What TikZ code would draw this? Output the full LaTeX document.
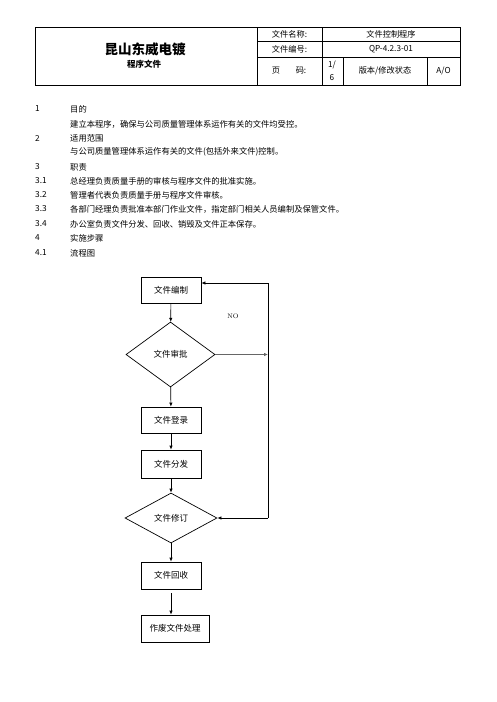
\documentclass[tikz,border=0pt]{standalone}
\usepackage{fontspec}
\newfontfamily\cjk{Noto Sans CJK SC}
\usetikzlibrary{arrows.meta,shapes.geometric}
\begin{document}
\begin{tikzpicture}[x=1pt,y=-1pt,
  font=\cjk\fontsize{8.2}{9}\selectfont,
  tbl/.style={line width=0.8pt},
  body/.style={anchor=west,inner sep=0pt,font=\cjk\fontsize{8.3}{9}\selectfont},
  fbox/.style={draw,line width=0.7pt,minimum width=60pt,minimum height=26pt,inner sep=0pt,font=\cjk\fontsize{8.5}{9}\selectfont},
  fdia/.style={draw,diamond,line width=0.7pt,aspect=1.37,minimum width=89pt,minimum height=65pt,inner sep=0pt,font=\cjk\fontsize{8.5}{9}\selectfont},
  arr/.style={line width=0.7pt,-{Latex[length=4pt,width=3.5pt]}}]
\useasboundingbox (0,0) rectangle (496,702);
\fill[white] (0,0) rectangle (496,702);
% header table
\draw[tbl] (35,27) rectangle (460,85);
\draw[tbl] (257,27) -- (257,85);
\draw[tbl] (322,27) -- (322,85);
\draw[tbl] (257,41) -- (460,41);
\draw[tbl] (257,57) -- (460,57);
\draw[tbl] (343,57) -- (343,85);
\draw[tbl] (427,57) -- (427,85);
\node[font=\cjk\bfseries\fontsize{13.5}{15}\selectfont] (t1) at (145,49) {昆山东威电镀};
\node[font=\cjk\bfseries\fontsize{8.5}{9}\selectfont] (t2) at (144,64) {程序文件};
\node (h1) at (289.5,34) {文件名称:};
\node (h2) at (391,34) {文件控制程序};
\node (h3) at (289.5,49) {文件编号:};
\node (h4) at (391,49) {QP-4.2.3-01};
\node (h5) at (276,71) {页};
\node (h6) at (301,71) {码:};
\node (h7) at (332,65) {1/};
\node (h8) at (332,78) {6};
\node (h9) at (385,71) {版本/修改状态};
\node (h10) at (443.5,71) {A/O};
% body text
\node[body] (n1) at (35,109) {1};
\node[body] (b1) at (70,109) {目的};
\node[body] (b1a) at (70,124) {建立本程序，确保与公司质量管理体系运作有关的文件均受控。};
\node[body] (n2) at (35,138) {2};
\node[body] (b2) at (70,138) {适用范围};
\node[body] (b2a) at (70,152) {与公司质量管理体系运作有关的文件(包括外来文件)控制。};
\node[body] (n3) at (35,167) {3};
\node[body] (b3) at (70,167) {职责};
\node[body] (n31) at (35,181) {3.1};
\node[body] (b31) at (70,181) {总经理负责质量手册的审核与程序文件的批准实施。};
\node[body] (n32) at (35,195) {3.2};
\node[body] (b32) at (70,195) {管理者代表负责质量手册与程序文件审核。};
\node[body] (n33) at (35,209) {3.3};
\node[body] (b33) at (70,209) {各部门经理负责批准本部门作业文件，指定部门相关人员编制及保管文件。};
\node[body] (n34) at (35,224) {3.4};
\node[body] (b34) at (70,224) {办公室负责文件分发、回收、销毁及文件正本保存。};
\node[body] (n4) at (35,238) {4};
\node[body] (b4) at (70,238) {实施步骤};
\node[body] (n41) at (35,253) {4.1};
\node[body] (b41) at (70,253) {流程图};
% flowchart
\node[fbox] (f1) at (171,290) {文件编制};
\node[fdia] (f2) at (170.5,354.5) {文件审批};
\node[fbox] (f3) at (171,420) {文件登录};
\node[fbox,minimum height=28pt] (f4) at (171,464) {文件分发};
\node[fdia,minimum width=92pt,minimum height=50pt,aspect=1.84] (f5) at (171,518) {文件修订};
\node[fbox,minimum height=27pt] (f6) at (171,575.5) {文件回收};
\node[fbox,minimum width=68pt,minimum height=27pt] (f7) at (175,628.5) {作废文件处理};
\node[font=\rmfamily\fontsize{6.5}{7}\selectfont] (no) at (233,316) {NO};
\coordinate (c1) at (268,354.5);
\coordinate (c0) at (268,283);
\coordinate (c2) at (268,518);
\draw[arr] (f1) -- (f2);
\draw[arr] (f2) -- (f3);
\draw[arr] (f3) -- (f4);
\draw[arr] (f4) -- (f5);
\draw[arr] (f5) -- (f6);
\draw[arr,shorten <=4pt] (f6.south) -- (f6.south |- f7.north);
\draw[arr,line width=1.2pt,draw=black!60] (f2.east) -- (c1);
\draw[line width=0.7pt] (c0) -- (c2);
\draw[arr] (c0) -- (f1.east |- c0);
\draw[arr] (c2) -- (f5.east);
\end{tikzpicture}
\end{document}
